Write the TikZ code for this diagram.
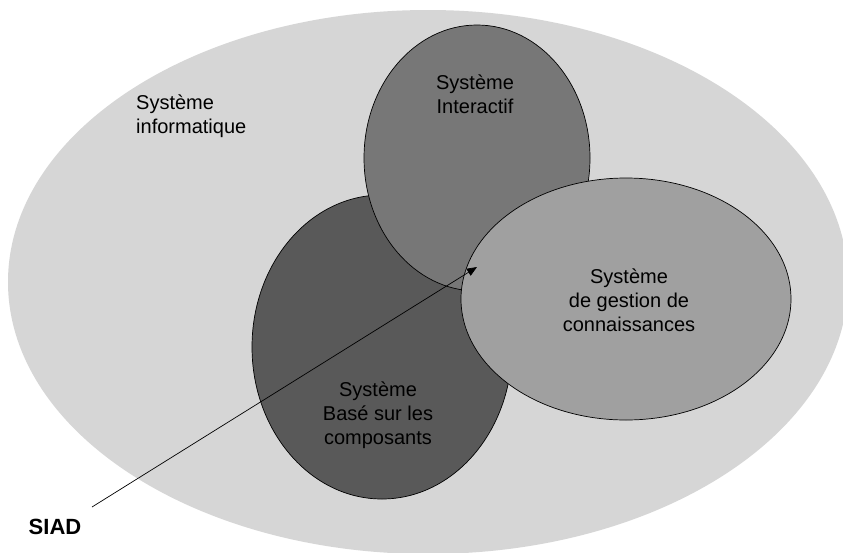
\documentclass[tikz,border=0pt]{standalone}
\usepackage{fontspec}
\setmainfont{Liberation Sans}
\usetikzlibrary{shapes.geometric,arrows.meta}
\definecolor{bigfill}{HTML}{D6D6D6}
\definecolor{topfill}{HTML}{777777}
\definecolor{darkfill}{HTML}{595959}
\definecolor{lightfill}{HTML}{A0A0A0}
\tikzset{
  blob/.style={ellipse, draw=black, line width=0.7pt, inner sep=0pt},
  lbl/.style={font=\fontsize{20}{24}\selectfont, align=center, inner sep=0pt, text=black},
}
\begin{document}
\begin{tikzpicture}[x=1pt,y=-1pt]
\clip (0,0) rectangle (843,552);
\useasboundingbox (0,0) rectangle (843,552);
\fill[white] (0,0) rectangle (843,552);
\node[ellipse, fill=bigfill, inner sep=0pt, minimum width=840pt, minimum height=544pt] (sys) at (428,282) {};
\node[blob, fill=darkfill, minimum width=260pt, minimum height=304pt] (base) at (382,347) {};
\node[blob, fill=topfill, minimum width=226pt, minimum height=266pt] (inter) at (477,158) {};
\node[blob, fill=lightfill, minimum width=330pt, minimum height=242pt] (kms) at (626,299) {};
\node[lbl, align=left, anchor=north west] (tsys) at (136,95) {Système\\informatique};
\node[lbl] (tinter) at (475,94) {Système\\Interactif};
\node[lbl] (tkms) at (629,300) {Système\\de gestion de\\connaissances};
\node[lbl] (tbase) at (378,415) {Système\\Basé sur les\\composants};
\node[font=\fontsize{22}{26}\selectfont\bfseries, inner sep=0pt] (siad) at (55,527) {SIAD};
\coordinate (from) at (92,507);
\coordinate (tip) at (477,267);
\draw[line width=0.7pt, -{Triangle[length=10pt,width=8pt]}] (from) -- (tip);
\end{tikzpicture}
\end{document}
